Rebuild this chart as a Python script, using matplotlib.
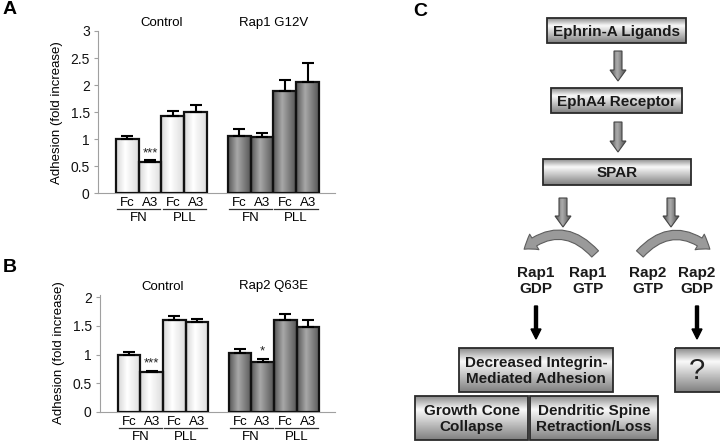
import numpy as np
import matplotlib
matplotlib.use('Agg')
import matplotlib.pyplot as plt
from matplotlib.patches import Rectangle, FancyArrow, FancyArrowPatch
from matplotlib.transforms import offset_copy

plt.rcParams['font.family'] = ['Liberation Sans', 'DejaVu Sans']

# data
bar_labels = ['Fc', 'A3', 'Fc', 'A3']
substrates = ['FN', 'PLL']
groups_a = ['Control', 'Rap1 G12V']
groups_b = ['Control', 'Rap2 Q63E']
a_vals = [1.01, 0.575, 1.425, 1.51, 1.06, 1.04, 1.90, 2.06]
a_err = [0.05, 0.04, 0.10, 0.12, 0.13, 0.07, 0.20, 0.34]
b_vals = [1.00, 0.70, 1.61, 1.57, 1.02, 0.87, 1.60, 1.49]
b_err = [0.04, 0.02, 0.07, 0.06, 0.08, 0.06, 0.11, 0.12]
sig_a = {1: '***'}
sig_b = {1: '***', 5: '*'}

# pathway diagram (pixel layout)
boxes = [
    ('Ephrin-A Ligands', 547, 18, 686, 43),
    ('EphA4 Receptor', 551, 88, 682, 113),
    ('SPAR', 543, 159, 691, 185),
    ('Decreased Integrin-\nMediated Adhesion', 459, 348, 613, 392),
    ('?', 675, 348, 722, 392),
    ('Growth Cone\nCollapse', 415, 396, 528, 440),
    ('Dendritic Spine\nRetraction/Loss', 530, 396, 658, 440),
]
gray_arrows = [(618, 51, 81), (618, 122, 152), (563, 198, 227), (671, 198, 227)]
black_arrows = [(536, 306, 339), (697, 306, 339)]
rap_labels = [('Rap1\nGDP', 536), ('Rap1\nGTP', 588), ('Rap2\nGTP', 648), ('Rap2\nGDP', 697)]


def shade(ax, patch, extent, pos, levels, horizontal=True, z=2):
    g = np.interp(np.linspace(0, 1, 64), pos, levels)
    img = g[None, :] if horizontal else g[:, None]
    ax.add_patch(patch)
    im = ax.imshow(img, cmap='gray', vmin=0, vmax=1, extent=extent,
                   aspect='auto', interpolation='bicubic', zorder=z)
    im.set_clip_path(patch)


fig = plt.figure(figsize=(7.2, 4.43), dpi=100)

xpos = np.r_[np.arange(4), np.arange(4) + 4.9]


def panel(rect, vals, errs, groups, sigs, ymax, ylim_top):
    ax = fig.add_axes(rect)
    for i, (x, v) in enumerate(zip(xpos, vals)):
        if i < 4:
            pos, lev = [0, 0.4, 1], [0.84, 1.0, 0.86]
        else:
            pos, lev = [0, 0.4, 1], [0.34, 0.66, 0.34]
        r = Rectangle((x - 0.5, 0), 1, v, facecolor='none', edgecolor='none')
        shade(ax, r, (x - 0.5, x + 0.5, 0, v), pos, lev, True, 2)
        ax.add_patch(Rectangle((x - 0.5, 0), 1, v, facecolor='none',
                               edgecolor='#111111', lw=1.6, zorder=3))
    ax.errorbar(xpos, vals, yerr=[np.zeros(len(vals)), errs], fmt='none',
                ecolor='black', elinewidth=1.5, capsize=4, capthick=1.5, zorder=4)
    for i, s in sigs.items():
        ax.text(xpos[i], vals[i] + errs[i] + 0.02, s, ha='center', va='bottom',
                fontsize=9.5, color='#222222')
    ax.set_xlim(-1.28, 9.1)
    ax.set_ylim(0, ylim_top)
    ax.set_yticks(np.arange(0, ymax + 0.01, 0.5))
    ax.yaxis.set_major_formatter(plt.FuncFormatter(lambda v, p: '%g' % v))
    ax.set_xticks([])
    for s in ['top', 'right']:
        ax.spines[s].set_visible(False)
    for s in ['left', 'bottom']:
        ax.spines[s].set_color('#a0a0a0')
        ax.spines[s].set_linewidth(0.8)
    ax.tick_params(axis='y', length=3, color='#a0a0a0', labelsize=10, pad=3,
                   labelcolor='#111111')
    ax.set_ylabel('Adhesion (fold increase)', fontsize=9.5, labelpad=5)
    tr = ax.get_xaxis_transform()
    t1 = offset_copy(tr, fig=fig, y=-10, units='dots')
    t2 = offset_copy(tr, fig=fig, y=-16, units='dots')
    t3 = offset_copy(tr, fig=fig, y=-25, units='dots')
    for k in range(2):
        base = xpos[4 * k]
        for j, lab in enumerate(bar_labels):
            ax.text(xpos[4 * k + j], 0, lab, transform=t1, ha='center', va='center',
                    fontsize=9.5, clip_on=False)
        for j, sub in enumerate(substrates):
            x0 = xpos[4 * k + 2 * j]
            ax.plot([x0 - 0.45, x0 + 1.45], [0, 0], transform=t2, color='#333333',
                    lw=0.9, clip_on=False)
            ax.text(x0 + 0.5, 0, sub, transform=t3, ha='center', va='center',
                    fontsize=9.5, clip_on=False)
        tt = offset_copy(ax.transAxes, fig=fig, y=8, units='dots')
        ax.text((base + 1.5 + 1.28) / (9.1 + 1.28), 1, groups[k], transform=tt,
                ha='center', va='center', fontsize=9.5)
    return ax


panel([98 / 720, 1 - 193.3 / 443, 237 / 720, 162.3 / 443], a_vals, a_err,
      groups_a, sig_a, 3, 3.0)
panel([100 / 720, 1 - 411.7 / 443, 235 / 720, 117.2 / 443], b_vals, b_err,
      groups_b, sig_b, 2, 2.05)

# diagram
dax = fig.add_axes([0, 0, 1, 1], zorder=-1)
for text, x0, y0, x1, y1 in boxes:
    r = Rectangle((x0, y0), x1 - x0, y1 - y0, facecolor='none', edgecolor='none')
    shade(dax, r, (x0, x1, y1, y0), [0, 0.3, 1], [0.55, 0.98, 0.5], False, 2)
    dax.add_patch(Rectangle((x0, y0), x1 - x0, y1 - y0, facecolor='none',
                            edgecolor='#2a2a2a', lw=1.3, zorder=3))
    if text == '?':
        dax.text(697, (y0 + y1) / 2 + 1, text, ha='center', va='center',
                 fontsize=21, color='#222222', zorder=4)
    else:
        dax.text((x0 + x1) / 2, (y0 + y1) / 2 + 1, text, ha='center', va='center',
                 fontsize=11, fontweight='bold', color='#1a1a1a',
                 linespacing=1.1, zorder=4)

for x, ya, yb in gray_arrows:
    a = FancyArrow(x, ya, 0, yb - ya, width=8, head_width=16, head_length=11,
                   length_includes_head=True, facecolor='none', edgecolor='#444444',
                   lw=0.8, zorder=3)
    shade(dax, FancyArrow(x, ya, 0, yb - ya, width=8, head_width=16, head_length=11,
                          length_includes_head=True, facecolor='none',
                          edgecolor='none'),
          (x - 8, x + 8, yb, ya), [0, 0.45, 1], [0.3, 0.68, 0.3], True, 2)
    dax.add_patch(a)

for xa, xb, rad in [(597, 522, 0.5), (638, 712, -0.5)]:
    dax.add_patch(FancyArrowPatch((xa, 256), (xb, 251),
                                  connectionstyle='arc3,rad=%g' % rad,
                                  arrowstyle='simple,head_width=0.65,head_length=0.45,tail_width=0.33',
                                  mutation_scale=20, facecolor='#9a9a9a',
                                  edgecolor='#5e5e5e', lw=0.8, zorder=3))

for text, x in rap_labels:
    dax.text(x, 281, text, ha='center', va='center', fontsize=11,
             fontweight='bold', color='#1a1a1a', linespacing=1.1)

for x, ya, yb in black_arrows:
    dax.add_patch(FancyArrow(x, ya, 0, yb - ya, width=3, head_width=10,
                             head_length=10, length_includes_head=True,
                             color='black', zorder=3))

dax.set_xlim(0, 720)
dax.set_ylim(443, 0)
dax.axis('off')

fig.text(10 / 720, 1 - 10 / 443, 'A', fontsize=14, fontweight='bold', ha='center', va='center')
fig.text(10 / 720, 1 - 268 / 443, 'B', fontsize=14, fontweight='bold', ha='center', va='center')
fig.text(420 / 720, 1 - 11 / 443, 'C', fontsize=14, fontweight='bold', ha='center', va='center')

fig.savefig('out.png', dpi=100)
